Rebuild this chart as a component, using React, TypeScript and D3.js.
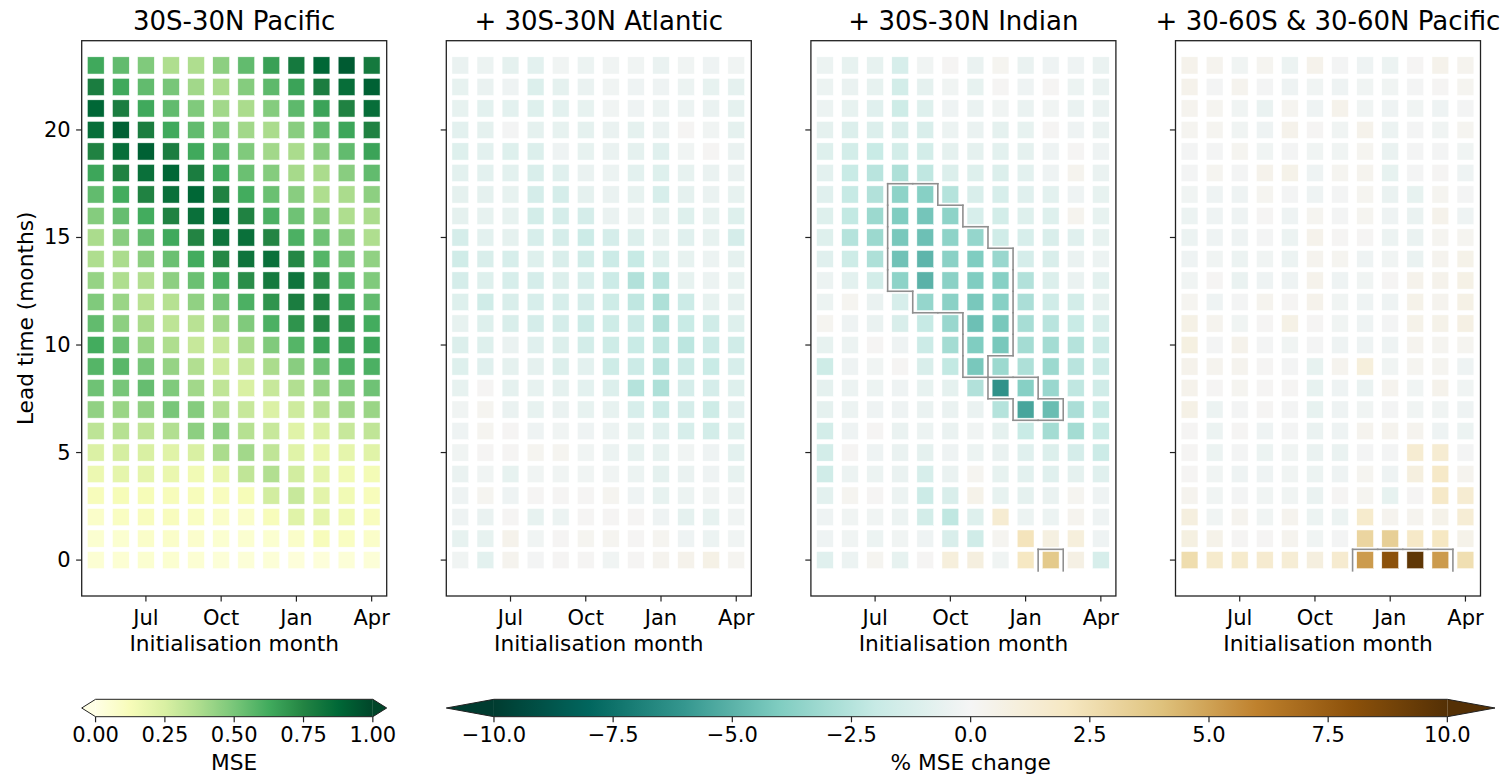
import React from 'react';
import * as d3 from 'd3';

// ---------- data ----------
const months = ['May', 'Jun', 'Jul', 'Aug', 'Sep', 'Oct', 'Nov', 'Dec', 'Jan', 'Feb', 'Mar', 'Apr'];
const xTickIdx = [2, 5, 8, 11];
const xTickLabels = ['Jul', 'Oct', 'Jan', 'Apr'];
const yTicks = [0, 5, 10, 15, 20];
const titles = ['30S-30N Pacific', '+ 30S-30N Atlantic', '+ 30S-30N Indian', '+ 30-60S & 30-60N Pacific'];
const mseTicks = [0, 0.25, 0.5, 0.75, 1];
const changeTicks = [-10, -7.5, -5, -2.5, 0, 2.5, 5, 7.5, 10];

// rows: lead time 23 (top) down to 0 (bottom); columns: May..Apr
const pacificMSE: number[][] = [
  [0.63, 0.55, 0.48, 0.37, 0.37, 0.45, 0.55, 0.66, 0.80, 0.88, 0.92, 0.80],
  [0.78, 0.63, 0.55, 0.50, 0.40, 0.38, 0.47, 0.56, 0.65, 0.78, 0.85, 0.90],
  [0.88, 0.78, 0.63, 0.55, 0.48, 0.40, 0.38, 0.47, 0.56, 0.65, 0.76, 0.85],
  [0.85, 0.90, 0.78, 0.63, 0.55, 0.48, 0.40, 0.38, 0.46, 0.55, 0.64, 0.76],
  [0.76, 0.85, 0.90, 0.78, 0.63, 0.55, 0.48, 0.40, 0.38, 0.46, 0.55, 0.65],
  [0.64, 0.76, 0.84, 0.88, 0.78, 0.62, 0.53, 0.47, 0.39, 0.38, 0.46, 0.55],
  [0.55, 0.62, 0.76, 0.84, 0.88, 0.76, 0.62, 0.53, 0.46, 0.37, 0.38, 0.45],
  [0.47, 0.54, 0.62, 0.76, 0.84, 0.86, 0.76, 0.60, 0.52, 0.45, 0.37, 0.38],
  [0.38, 0.46, 0.54, 0.63, 0.75, 0.82, 0.84, 0.75, 0.60, 0.52, 0.45, 0.37],
  [0.37, 0.38, 0.45, 0.53, 0.62, 0.74, 0.82, 0.84, 0.74, 0.58, 0.50, 0.44],
  [0.43, 0.37, 0.36, 0.45, 0.53, 0.60, 0.72, 0.80, 0.82, 0.72, 0.57, 0.48],
  [0.48, 0.42, 0.34, 0.35, 0.44, 0.50, 0.60, 0.70, 0.78, 0.76, 0.66, 0.55],
  [0.55, 0.45, 0.38, 0.33, 0.34, 0.40, 0.48, 0.60, 0.70, 0.74, 0.70, 0.62],
  [0.62, 0.53, 0.42, 0.37, 0.30, 0.30, 0.38, 0.48, 0.58, 0.65, 0.66, 0.64],
  [0.58, 0.57, 0.50, 0.43, 0.36, 0.28, 0.30, 0.38, 0.46, 0.52, 0.60, 0.60],
  [0.52, 0.50, 0.54, 0.48, 0.40, 0.32, 0.25, 0.30, 0.36, 0.43, 0.48, 0.52],
  [0.44, 0.42, 0.44, 0.50, 0.47, 0.36, 0.30, 0.24, 0.28, 0.34, 0.40, 0.42],
  [0.33, 0.35, 0.32, 0.36, 0.45, 0.45, 0.35, 0.30, 0.22, 0.24, 0.30, 0.32],
  [0.24, 0.26, 0.25, 0.22, 0.25, 0.38, 0.40, 0.32, 0.22, 0.18, 0.20, 0.22],
  [0.17, 0.20, 0.20, 0.18, 0.15, 0.18, 0.32, 0.36, 0.27, 0.20, 0.15, 0.14],
  [0.12, 0.13, 0.13, 0.12, 0.12, 0.11, 0.13, 0.27, 0.30, 0.21, 0.15, 0.12],
  [0.08, 0.10, 0.11, 0.11, 0.10, 0.08, 0.08, 0.12, 0.22, 0.20, 0.15, 0.11],
  [0.06, 0.06, 0.08, 0.08, 0.07, 0.06, 0.06, 0.06, 0.08, 0.12, 0.10, 0.08],
  [0.05, 0.05, 0.06, 0.06, 0.05, 0.04, 0.04, 0.04, 0.03, 0.03, 0.04, 0.04],
];

const atlanticChange: number[][] = [
  [-0.5, -0.4, -0.7, -0.8, -0.2, -0.4, -0.2, -0.2, -0.5, -0.2, -0.3, -0.2],
  [-0.6, -0.5, -0.3, -1.1, -0.7, -0.5, -0.2, -0.3, -0.3, -0.4, -0.6, -0.7],
  [-0.6, -0.8, -0.8, -1.0, -0.8, -0.6, -0.2, -0.3, -0.4, -0.4, -0.5, -0.7],
  [-0.8, -0.7, -0.1, -0.7, -0.6, -0.7, -0.5, -0.7, -0.5, 0.1, -0.2, -0.7],
  [-1.0, -0.8, -1.0, -1.1, -0.3, -0.6, -0.5, -0.7, -0.9, -0.2, 0.1, -0.5],
  [-0.8, -0.8, -0.8, -1.2, -0.9, -0.5, -0.4, -0.8, -1.0, -0.6, -0.5, -0.5],
  [-0.7, -0.7, -0.6, -1.4, -1.4, -0.7, -0.5, -0.6, -1.3, -0.7, -0.5, -0.6],
  [-0.7, -0.6, -0.6, -1.5, -1.4, -1.4, -0.5, -0.4, -0.7, -1.0, -0.6, -1.0],
  [-1.4, -0.8, -0.7, -1.3, -1.4, -1.8, -1.4, -1.1, -0.6, -0.9, -0.6, -1.4],
  [-1.6, -1.2, -1.3, -1.0, -1.2, -1.6, -1.8, -2.0, -1.0, -0.6, -0.4, -0.7],
  [-1.4, -1.0, -1.3, -1.4, -1.1, -1.3, -1.8, -2.6, -2.4, -0.6, -0.4, -0.6],
  [-1.0, -1.6, -1.2, -1.3, -1.3, -1.4, -1.7, -2.2, -2.7, -1.8, -0.6, -0.7],
  [-0.6, -1.0, -1.2, -1.4, -1.4, -1.8, -1.7, -1.8, -2.6, -1.9, -1.6, -1.0],
  [-1.1, -1.0, -0.5, -0.9, -1.1, -1.5, -1.7, -1.9, -2.2, -2.3, -1.8, -1.6],
  [-1.0, -0.9, -0.7, -0.7, -1.1, -0.8, -1.7, -1.8, -2.4, -1.8, -1.9, -1.3],
  [-0.6, 0.1, -0.7, -0.6, -0.7, -0.8, -1.1, -2.5, -2.7, -1.4, -1.4, -1.0],
  [-0.2, 0.2, -0.5, -0.6, -0.5, -0.6, -0.6, -1.3, -1.8, -1.4, -1.7, -0.9],
  [-0.3, 0.2, 0.1, -0.3, -0.2, -0.3, -0.4, -0.7, -0.9, -1.3, -1.5, -1.0],
  [-0.2, 0.1, 0.1, 0.2, 0.2, -0.2, -0.4, -0.6, -0.6, -0.2, -0.3, -0.8],
  [-0.5, -0.2, -0.6, -0.2, -0.2, -0.2, -0.2, -0.4, -0.7, -0.5, -0.3, -0.6],
  [-0.3, 0.2, -0.3, 0.1, 0.1, 0.1, 0.2, -0.3, -0.6, -0.4, -0.2, -0.2],
  [-0.3, -0.5, 0.1, -0.6, -0.4, 0.1, 0.1, 0.1, -0.3, -0.7, -0.6, -0.2],
  [-0.6, -0.6, 0.4, -0.2, 0.1, 0.2, 0.2, 0.1, 0.2, -0.3, -0.4, -0.2],
  [-0.2, -0.8, 0.3, -0.1, 0.1, 0.1, -0.2, 0.1, 0.3, 0.4, 0.6, 0.2],
];

const indianChange: number[][] = [
  [-0.4, -0.6, -0.6, -1.3, -0.2, 0.1, -0.5, 0.2, -0.5, -0.3, -0.3, -0.5],
  [-0.4, -0.5, -0.6, -1.5, -0.7, -0.2, -0.6, 0.1, -0.3, 0.1, -0.4, -0.5],
  [-0.4, -0.6, -0.9, -1.7, -1.0, -0.3, -0.5, -0.2, -0.5, -0.2, -0.5, -0.5],
  [-0.7, -1.1, -1.1, -1.2, -1.2, -0.4, -0.5, -0.7, -0.6, 0.1, -0.3, -0.5],
  [-1.0, -1.5, -1.9, -1.5, -1.5, -0.7, -0.7, -0.8, -0.7, -0.3, 0.1, -0.3],
  [-0.8, -1.9, -2.4, -2.7, -2.2, -1.1, -1.0, -1.1, -0.8, -0.3, 0.3, -0.5],
  [-0.9, -2.0, -2.6, -3.6, -3.8, -2.5, -1.2, -1.3, -0.9, -0.8, -0.3, -0.6],
  [-1.0, -2.1, -3.2, -4.0, -4.3, -3.6, -1.3, -1.5, -1.0, -1.0, 0.3, -0.6],
  [-1.0, -2.5, -3.2, -4.2, -4.5, -3.6, -3.4, -1.6, -1.3, -1.2, -0.9, -0.6],
  [-0.9, -1.7, -2.7, -4.4, -4.9, -3.7, -4.0, -3.3, -1.4, -1.2, -0.5, -0.4],
  [-0.4, -0.8, -1.5, -3.6, -5.0, -3.7, -4.0, -3.8, -2.6, -1.1, -0.5, -0.8],
  [-0.4, 0.2, -0.5, -1.3, -3.4, -3.7, -4.2, -3.8, -2.8, -1.6, -1.5, -0.7],
  [0.2, -0.3, -0.5, -1.2, -2.0, -3.3, -4.5, -4.2, -2.9, -2.4, -1.9, -1.3],
  [-0.6, -0.4, 0.1, -0.3, -1.8, -3.0, -4.0, -4.2, -3.0, -3.0, -2.5, -1.8],
  [-1.7, -0.3, -0.2, 0.1, -1.2, -2.1, -4.2, -3.2, -2.7, -3.2, -2.4, -1.8],
  [-0.7, -0.4, -0.4, -0.3, -0.6, -0.7, -2.6, -6.2, -3.8, -3.3, -2.2, -1.6],
  [-0.7, -0.4, -0.3, -0.3, -0.5, -0.5, -0.5, -2.5, -5.5, -4.6, -2.8, -1.9],
  [-1.5, -0.3, 0.1, -0.5, -0.4, -0.5, -0.2, -0.7, -1.9, -3.0, -3.0, -1.9],
  [-1.5, 0.1, -0.3, -0.5, -0.7, -0.3, -0.4, -0.5, -0.9, -1.1, -1.4, -1.8],
  [-1.6, -0.4, -0.4, -0.5, -1.3, -0.5, 0.2, -0.6, -0.8, -0.9, -0.7, -0.9],
  [-0.8, 0.2, 0.1, -0.4, -1.8, -1.2, 0.5, -0.6, -0.7, -0.5, 0.2, -0.3],
  [-0.3, -0.2, -0.2, -0.4, -1.5, -2.2, -1.0, 1.4, -0.4, -0.4, 0.3, -0.3],
  [-0.3, -0.2, -0.4, -0.2, -0.3, -1.2, -1.6, 0.2, 2.2, 0.8, 1.0, -0.3],
  [-0.9, -0.4, 0.2, -0.6, 0.1, 1.0, 0.9, -0.2, 2.0, 3.6, 0.7, -1.3],
];

const extratropChange: number[][] = [
  [0.4, 0.3, -0.2, 0.2, -0.4, 0.4, -0.1, -0.3, -0.4, 0.1, 0.4, 0.3],
  [0.4, -0.1, 0.3, -0.1, -0.3, -0.2, -0.3, -0.2, -0.2, -0.1, 0.1, 0.2],
  [0.3, 0.2, -0.2, -0.5, 0.2, -0.3, 0.4, -0.2, -0.3, -0.2, -0.3, -0.1],
  [0.2, 0.2, -0.2, -0.3, 0.4, 0.1, -0.2, 0.4, -0.4, -0.1, -0.2, 0.2],
  [-0.1, -0.1, 0.2, -0.2, -0.1, -0.2, -0.2, 0.2, -0.5, -0.1, -0.1, -0.2],
  [-0.1, 0.2, -0.1, 0.4, 0.5, -0.3, 0.2, 0.3, -0.6, -0.1, 0.1, -0.3],
  [-0.2, -0.3, -0.3, 0.2, -0.1, -0.3, -0.1, 0.2, -0.5, -0.6, 0.2, -0.1],
  [-0.4, -0.3, -0.3, 0.1, -0.3, 0.2, -0.1, 0.2, -0.3, -0.5, 0.4, -0.3],
  [-0.4, -0.3, -0.3, -0.1, -0.4, 0.4, 0.1, 0.1, -0.4, -0.5, 0.2, 0.2],
  [-0.3, -0.2, -0.4, -0.2, -0.4, 0.3, 0.2, -0.3, -0.2, -0.5, 0.3, 0.5],
  [-0.2, 0.1, -0.5, -0.3, -0.3, 0.4, -0.3, -0.2, 0.1, 0.4, 0.4, 0.6],
  [0.2, -0.3, -0.1, 0.3, 0.1, 0.4, -0.2, -0.3, -0.3, 0.5, 0.3, 0.6],
  [0.6, 0.3, -0.2, 0.1, 0.6, 0.1, -0.2, -0.3, -0.1, 0.5, 0.5, 0.7],
  [0.8, -0.1, 0.4, -0.1, -0.2, -0.1, -0.3, -0.3, -0.3, 0.3, 0.2, 0.2],
  [0.4, 0.3, 0.3, 0.1, -0.1, -0.6, 0.3, 1.0, -0.2, 0.2, 0.2, -0.3],
  [0.4, 0.1, 0.2, 0.1, 0.1, -0.6, -0.3, -0.5, 0.3, -0.2, 0.4, -0.2],
  [0.6, -0.4, -0.1, 0.1, -0.1, -0.6, -0.3, -0.2, -0.1, -0.2, -0.2, -0.3],
  [0.1, -0.4, 0.1, -0.3, -0.1, -0.5, -0.3, 0.3, 0.3, 0.3, -0.3, -0.4],
  [0.1, -0.4, -0.1, -0.4, -0.2, -0.5, -0.5, -0.1, -0.1, 1.4, 1.4, -0.1],
  [0.1, -0.2, -0.3, -0.3, -0.2, -0.4, -0.3, 0.2, -0.3, 0.9, 1.8, 0.3],
  [0.3, -0.2, -0.1, -0.2, -0.2, -0.5, 0.1, 0.2, -0.6, 0.1, 1.8, 1.4],
  [0.9, -0.2, 0.3, -0.2, 0.3, -0.4, -0.4, 1.6, 0.3, 0.3, 0.5, 1.3],
  [0.8, 0.5, 0.1, 0.1, 0.3, -0.2, -0.1, 3.0, 3.3, 1.8, 2.0, 0.5],
  [2.6, 1.6, 1.6, 1.5, 1.3, 0.9, 1.5, 5.2, 8.0, 9.6, 5.2, 2.5],
];

// significance masks: [lead, month indices]
const pacificSignificant: [number, number[]][] = [];
const atlanticSignificant: [number, number[]][] = [];
const indianSignificant: [number, number[]][] = [
  [17, [3, 4]], [16, [3, 4, 5]], [15, [3, 4, 5, 6]], [14, [3, 4, 5, 6, 7]],
  [13, [3, 4, 5, 6, 7]], [12, [4, 5, 6, 7]], [11, [6, 7]], [10, [6, 7]],
  [9, [6]], [8, [7, 8]], [7, [8, 9]], [0, [9]],
];
const extratropSignificant: [number, number[]][] = [[0, [7, 8, 9, 10]]];

// ---------- colour maps ----------
const ylgnColors = ['#ffffe5', '#f7fcb9', '#d9f0a3', '#addd8e', '#78c679', '#41ab5d', '#238443', '#006837', '#004529'];
const brbgRevColors = ['#003c30', '#01665e', '#35978f', '#80cdc1', '#c7eae5', '#f5f5f5', '#f6e8c3', '#dfc27d', '#bf812d', '#8c510a', '#543005'];
const mseColor = d3.scaleLinear<string>().domain(d3.range(9).map(i => i / 8)).range(ylgnColors).clamp(true);
const changeColor = d3.scaleLinear<string>().domain(d3.range(11).map(i => -10 + i * 2)).range(brbgRevColors).clamp(true);

// ---------- layout ----------
const W = 1505, H = 776;
const panelLefts = [81.7, 446.3, 810.9, 1175.5];
const panelW = 305;
const axTop = 40.7, axBottom = 596;
const FONT = 'DejaVu Sans, sans-serif';

type PanelDef = { title: string; data: number[][]; color: (v: number) => string; sig: [number, number[]][] };
const panels: PanelDef[] = [
  { title: titles[0], data: pacificMSE, color: mseColor, sig: pacificSignificant },
  { title: titles[1], data: atlanticChange, color: changeColor, sig: atlanticSignificant },
  { title: titles[2], data: indianChange, color: changeColor, sig: indianSignificant },
  { title: titles[3], data: extratropChange, color: changeColor, sig: extratropSignificant },
];

function outlineSegments(sig: [number, number[]][]) {
  const set = new Set<string>();
  sig.forEach(([lead, cols]) => cols.forEach(c => set.add(`${lead},${c}`)));
  const has = (l: number, c: number) => set.has(`${l},${c}`);
  const segs: [number, number, number, number][] = [];
  sig.forEach(([l, cols]) => cols.forEach(c => {
    if (!has(l + 1, c)) segs.push([c - 0.5, l + 0.5, c + 0.5, l + 0.5]);
    if (l - 1 >= 0 && !has(l - 1, c)) segs.push([c - 0.5, l - 0.5, c + 0.5, l - 0.5]);
    if (!has(l, c - 1)) segs.push([c - 0.5, l - 0.5, c - 0.5, l + 0.5]);
    if (!has(l, c + 1)) segs.push([c + 0.5, l - 0.5, c + 0.5, l + 0.5]);
  }));
  return segs;
}

function Panel({ p, i }: { p: PanelDef; i: number }) {
  const left = panelLefts[i];
  const x = d3.scaleLinear().domain([-0.56, 11.6]).range([left, left + panelW]);
  const y = d3.scaleLinear().domain([-1.67, 24.15]).range([axBottom, axTop]);
  const nRows = p.data.length;
  const cw = 16.8, ch = 17.2;
  const segs = outlineSegments(p.sig);
  return (
    <g>
      <text x={left + panelW / 2} y={29.5} fontSize={26} textAnchor="middle" fill="#000">{p.title}</text>
      {p.data.map((row, ri) => {
        const lead = nRows - 1 - ri;
        return row.map((v, c) => (
          <rect key={`${ri}-${c}`} x={x(c) - cw / 2} y={y(lead) - ch / 2} width={cw} height={ch}
            fill={p.color(v)} stroke="#ffffff" strokeWidth={0.5} />
        ));
      })}
      {segs.map((s, k) => (
        <line key={k} x1={x(s[0])} y1={y(s[1])} x2={x(s[2])} y2={y(s[3])}
          stroke="#8f8f8f" strokeWidth={1.6} strokeLinecap="square" />
      ))}
      <rect x={left} y={axTop} width={panelW} height={axBottom - axTop} fill="none" stroke="#222" strokeWidth={1.3} />
      {xTickIdx.map((m, k) => (
        <g key={m}>
          <line x1={x(m)} x2={x(m)} y1={axBottom} y2={axBottom + 5.6} stroke="#222" strokeWidth={1.2} />
          <text x={x(m)} y={625} fontSize={21} textAnchor="middle" fill="#000">{xTickLabels[k]}</text>
        </g>
      ))}
      {yTicks.map(t => (
        <g key={t}>
          <line x1={left} x2={left - 5.6} y1={y(t)} y2={y(t)} stroke="#222" strokeWidth={1.2} />
          {i === 0 && (
            <text x={left - 11} y={y(t)} fontSize={21} textAnchor="end" dominantBaseline="central" fill="#000">{t}</text>
          )}
        </g>
      ))}
      <text x={left + panelW / 2} y={651} fontSize={21.7} textAnchor="middle" fill="#000">Initialisation month</text>
      {i === 0 && (
        <text transform={`translate(33,${(axTop + axBottom) / 2}) rotate(-90)`} fontSize={21.7} textAnchor="middle" fill="#000">
          Lead time (months)
        </text>
      )}
    </g>
  );
}

function Colorbar({ id, x0, x1, domain, color, ticks, fmt, label, under, over }: {
  id: string; x0: number; x1: number; domain: [number, number]; color: (v: number) => string;
  ticks: number[]; fmt: (v: number) => string; label: string; under: string; over: string;
}) {
  const top = 699.3, bot = 716.7, mid = (top + bot) / 2;
  const total = x1 - x0;
  const body = total / 1.1;
  const ext = (total - body) / 2;
  const b0 = x0 + ext, b1 = x1 - ext;
  const s = d3.scaleLinear().domain(domain).range([b0, b1]);
  const stops = d3.range(0, 41).map(k => k / 40);
  const outline = `M${b0},${top} L${b1},${top} L${x1},${mid} L${b1},${bot} L${b0},${bot} L${x0},${mid} Z`;
  return (
    <g>
      <defs>
        <linearGradient id={id} x1="0" x2="1" y1="0" y2="0">
          {stops.map(t => (
            <stop key={t} offset={t} stopColor={color(domain[0] + t * (domain[1] - domain[0]))} />
          ))}
        </linearGradient>
      </defs>
      <rect x={b0} y={top} width={b1 - b0} height={bot - top} fill={`url(#${id})`} />
      <path d={`M${b0},${top} L${x0},${mid} L${b0},${bot} Z`} fill={under} />
      <path d={`M${b1},${top} L${x1},${mid} L${b1},${bot} Z`} fill={over} />
      <path d={outline} fill="none" stroke="#222" strokeWidth={1} />
      {ticks.map(t => (
        <g key={t}>
          <line x1={s(t)} x2={s(t)} y1={bot} y2={bot + 5.6} stroke="#222" strokeWidth={1.2} />
          <text x={s(t)} y={741.7} fontSize={21} textAnchor="middle" fill="#000">{fmt(t)}</text>
        </g>
      ))}
      <text x={(b0 + b1) / 2} y={770} fontSize={21.7} textAnchor="middle" fill="#000">{label}</text>
    </g>
  );
}

export default function App() {
  const fmt2 = d3.format('.2f');
  const fmt1 = (v: number) => d3.format('.1f')(v).replace('-', '\u2212');
  return (
    <svg width={W} height={H} viewBox={`0 0 ${W} ${H}`}
      style={{ position: 'absolute', left: 0, top: 0, background: '#fff', fontFamily: FONT }}>
      <rect x={0} y={0} width={W} height={H} fill="#fff" />
      {panels.map((p, i) => <Panel key={i} p={p} i={i} />)}
      <Colorbar id="cbMSE" x0={81.7} x1={386.7} domain={[0, 1]} color={mseColor} ticks={mseTicks}
        fmt={fmt2} label="MSE" under={ylgnColors[0]} over={ylgnColors[8]} />
      <Colorbar id="cbChange" x0={446.3} x1={1495} domain={[-10, 10]} color={changeColor} ticks={changeTicks}
        fmt={fmt1} label="% MSE change" under={brbgRevColors[0]} over={brbgRevColors[10]} />
    </svg>
  );
}
